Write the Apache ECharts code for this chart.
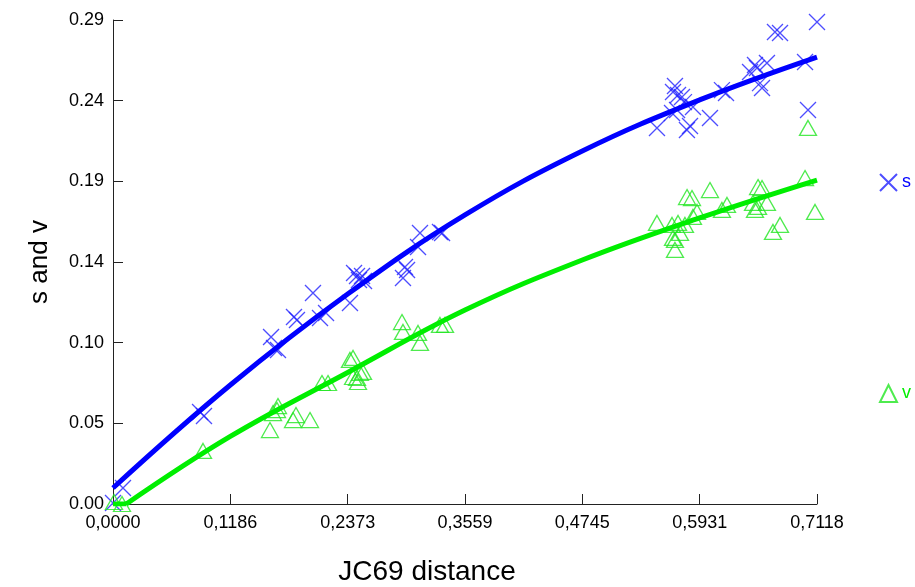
<!DOCTYPE html>
<html>
<head>
<meta charset="utf-8">
<script src="https://cdn.jsdelivr.net/npm/echarts@6/dist/echarts.min.js"></script>
<style>html,body{margin:0;padding:0;background:#fff}#c{width:915px;height:587px}</style>
</head>
<body>
<div id="c"></div>
<script>
// ---- data ----
const xTickLabels = ['0,0000','0,1186','0,2373','0,3559','0,4745','0,5931','0,7118'];
const yTickLabels = ['0.00','0.05','0.10','0.14','0.19','0.24','0.29'];
const xMax = 0.7118;
const yMax = 0.29;

const sPoints = [
  [0.0000,0.0006],[0.0101,0.0096],[0.0880,0.0551],[0.0920,0.0527],
  [0.1598,0.1001],[0.1628,0.0935],[0.1668,0.0923],[0.1830,0.1120],[0.1860,0.1102],
  [0.2022,0.1264],[0.2093,0.1114],[0.2154,0.1144],[0.2396,0.1204],
  [0.2437,0.1384],[0.2467,0.1366],[0.2487,0.1342],[0.2518,0.1366],[0.2538,0.1336],
  [0.2932,0.1354],[0.2952,0.1420],[0.2973,0.1402],[0.3084,0.1540],[0.3104,0.1624],
  [0.3306,0.1630],[0.3327,0.1624],
  [0.5500,0.2253],[0.5682,0.2505],[0.5662,0.2469],[0.5713,0.2451],[0.5753,0.2439],
  [0.5773,0.2408],[0.5703,0.2361],[0.5652,0.2343],[0.5864,0.2379],[0.6036,0.2313],
  [0.5834,0.2265],[0.5803,0.2241],[0.6157,0.2480],[0.6198,0.2463],
  [0.6491,0.2630],[0.6511,0.2612],[0.6612,0.2642],[0.6441,0.2588],[0.6542,0.2522],
  [0.6562,0.2493],[0.6693,0.2828],[0.6744,0.2822],[0.6997,0.2648],[0.7027,0.2361],
  [0.7118,0.2888]
];
const vPoints = [
  [0.0010,0.0012],[0.0091,0.0000],[0.0910,0.0318],
  [0.1587,0.0443],[0.1618,0.0545],[0.1658,0.0563],[0.1668,0.0587],[0.1820,0.0503],
  [0.1850,0.0533],[0.1992,0.0503],[0.2113,0.0725],[0.2174,0.0725],
  [0.2396,0.0863],[0.2427,0.0875],[0.2427,0.0761],[0.2467,0.0755],[0.2477,0.0731],
  [0.2497,0.0785],[0.2528,0.0791],
  [0.2922,0.1090],[0.2932,0.1031],[0.3084,0.1025],[0.3104,0.0965],[0.3306,0.1073],[0.3357,0.1073],
  [0.5500,0.1684],[0.5652,0.1672],[0.5713,0.1684],[0.5783,0.1672],[0.5804,0.1839],
  [0.5854,0.1833],[0.6036,0.1881],[0.5905,0.1750],[0.5864,0.1720],[0.5662,0.1594],
  [0.5682,0.1582],[0.5682,0.1522],[0.5733,0.1624],[0.6157,0.1762],[0.6208,0.1792],
  [0.6522,0.1899],[0.6562,0.1893],[0.6471,0.1804],[0.6491,0.1762],[0.6522,0.1780],
  [0.6612,0.1804],[0.6673,0.1630],[0.6744,0.1672],[0.6997,0.1953],[0.7027,0.2253],
  [0.7098,0.1750]
];
const sFit = [[0,0.0096],[0.1186,0.0713],[0.2373,0.1258],[0.3559,0.1732],[0.4745,0.2115],[0.5931,0.2421],[0.7118,0.2678]];
const vFitFlat = [[0,0],[0.0134,0]];
const vFit = [[0.0134,0],[0.1186,0.0405],[0.2373,0.0788],[0.3559,0.1162],[0.4745,0.1462],[0.5931,0.1714],[0.7118,0.1941]];

// ---- chart ----
const blue = '#0000ff', blueM = '#2020ff';
const green = '#00ee00', greenM = '#22e622';
const crossPath = 'path://M0,0L10,10M10,0L0,10';
const font = 'Liberation Sans, Arial, sans-serif';

const chart = echarts.init(document.getElementById('c'), null, {renderer:'canvas'});
chart.setOption({
  animation: false,
  backgroundColor: '#fff',
  grid: {left:113, right:98, top:20, bottom:83, containLabel:false, outerBoundsMode:'none'},
  xAxis: {
    type:'value', min:0, max:xMax, interval:xMax/6,
    name:'JC69 distance', nameLocation:'middle', nameGap:54,
    nameTextStyle:{fontFamily:font, fontSize:28, color:'#000', padding:[0,76,0,0]},
    axisLine:{show:true, lineStyle:{color:'#222', width:1}},
    axisTick:{show:true, inside:true, length:10, lineStyle:{color:'#222'}},
    axisLabel:{fontFamily:font, fontSize:18, color:'#000', margin:10,
      formatter:(v,i)=>xTickLabels[i]},
    splitLine:{show:false}
  },
  yAxis: {
    type:'value', min:0, max:yMax, interval:yMax/6,
    name:'s and v', nameLocation:'middle', nameGap:60, nameRotate:90,
    nameTextStyle:{fontFamily:font, fontSize:26, color:'#000'},
    axisLine:{show:true, lineStyle:{color:'#222', width:1}},
    axisTick:{show:true, inside:true, length:10, lineStyle:{color:'#222'}},
    axisLabel:{fontFamily:font, fontSize:18, color:'#000', margin:9,
      formatter:(v,i)=>yTickLabels[i]},
    splitLine:{show:false}
  },
  legend: [
    {data:['s'], orient:'vertical', left:874, top:168, itemWidth:17, itemHeight:17, itemGap:8,
      textStyle:{fontFamily:font, fontSize:18, color:blue}},
    {data:['v'], orient:'vertical', left:874, top:379, itemWidth:17, itemHeight:17, itemGap:8,
      textStyle:{fontFamily:font, fontSize:18, color:green}}
  ],
  series: [
    {name:'s', type:'scatter', data:sPoints, symbol:crossPath, symbolSize:16,
      itemStyle:{color:'rgba(0,0,0,0)', borderColor:blueM, borderWidth:1.3}, z:2},
    {name:'v', type:'scatter', data:vPoints, symbol:'triangle', symbolSize:[17,15],
      itemStyle:{color:'rgba(0,0,0,0)', borderColor:greenM, borderWidth:1.3}, z:2},
    {name:'sfit', type:'line', data:sFit, smooth:0.4, showSymbol:false, symbol:'none',
      lineStyle:{color:blue, width:5}, z:3, silent:true},
    {name:'vflat', type:'line', data:vFitFlat, showSymbol:false, symbol:'none',
      lineStyle:{color:green, width:5}, z:3, silent:true},
    {name:'vfit', type:'line', data:vFit, smooth:0.4, showSymbol:false, symbol:'none',
      lineStyle:{color:green, width:5}, z:3, silent:true}
  ]
});
</script>
</body>
</html>
